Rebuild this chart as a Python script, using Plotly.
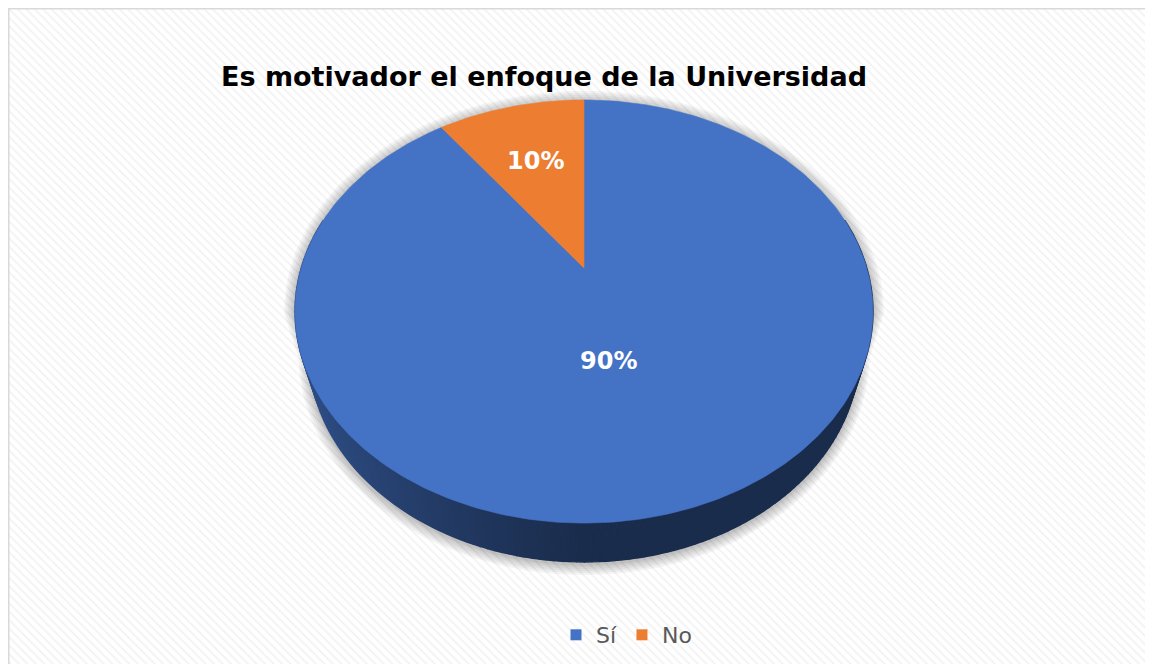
import numpy as np
import plotly.graph_objects as go

# ---------------- data ----------------
CATEGORIES = ["Sí", "No"]
VALUES = [90, 10]
PCT_LABELS = ["90%", "10%"]
COLORS = ["#4472C4", "#ED7D31"]
TITLE = "Es motivador el enfoque de la Universidad"

# ---------------- page / layout constants ----------------
OX, OY = 8, 8                          # page body margin of the browser
W, HGT = 1153 - 2 * OX, 672 - 2 * OY   # figure size so that it fits the window without scrollbars
FONT = "DejaVu Sans, Liberation Sans, Arial"

# ---------------- 3D pie geometry (screen pixels) ----------------
CX, CY = 584, 268          # projected pie centre
F, D = 959.6, 3.393        # perspective focal length & camera distance (radius = 1)
SA, CA = 0.7164, 0.698     # sin / cos of view elevation
THICK = 0.228              # pie thickness (radius units)
START = np.pi / 2          # first slice starts at 12 o'clock, clockwise
LABEL_R = [0.44, 0.62]
LABEL_XSHIFT = [-18, 0]


def proj(r, th, h=0.0):
    x = r * np.cos(th)
    y = r * np.sin(th)
    v = y * SA + h * CA
    z = y * CA - h * SA
    return CX + F * x / (D + z), CY - F * v / (D + z)


def hex_rgb(c):
    c = c.lstrip("#")
    return [int(c[i:i + 2], 16) for i in (0, 2, 4)]


total = float(sum(VALUES))
fracs = [v / total for v in VALUES]
cum = np.concatenate([[0], np.cumsum(fracs)])
angles = [(START - 2 * np.pi * cum[i], START - 2 * np.pi * cum[i + 1]) for i in range(len(VALUES))]

fig = go.Figure()

# ---------------- background hatch (subplot xy) ----------------
fig.add_trace(go.Bar(
    x=[0.5], y=[1], width=[1], xaxis="x", yaxis="y",
    marker=dict(color="white", line=dict(width=0),
                pattern=dict(shape="\\", fgcolor="#e6e6e6", bgcolor="white", size=6, solidity=0.3)),
    showlegend=False, hoverinfo="skip"))

# ---------------- shadow ----------------
t_top = np.linspace(-0.21, np.pi + 0.21, 120)
t_bot = np.linspace(np.pi + 0.21, 2 * np.pi - 0.21, 120)
sx, sy = [], []
for t in t_top:
    a, b = proj(1, t, 0)
    sx.append(a); sy.append(b)
for t in t_bot:
    a, b = proj(1, t, -THICK)
    sx.append(a); sy.append(b)
sx = np.array(sx); sy = np.array(sy)
scx, scy = 584, 330
for e in [11, 9, 7, 5, 3, 1.5]:
    kx = 1 + e / 290.0
    ky = 1 + e / 230.0
    fig.add_trace(go.Scatter(
        x=scx + (sx - scx) * kx, y=scy + (sy - scy) * ky + 2, xaxis="x2", yaxis="y2",
        mode="lines", fill="toself", fillcolor="rgba(0,0,0,0.045)", line=dict(width=0),
        showlegend=False, hoverinfo="skip"))

# ---------------- side wall ----------------
def slice_of(th):
    fr = ((START - th) % (2 * np.pi)) / (2 * np.pi)
    for i in range(len(VALUES)):
        if cum[i] <= fr < cum[i + 1]:
            return i
    return len(VALUES) - 1

edges = np.linspace(np.pi - 0.25, 2 * np.pi + 0.25, 161)
segs = []
for i in range(len(edges) - 1):
    t0, t1 = edges[i], edges[i + 1]
    tm = 0.5 * (t0 + t1)
    segs.append((np.sin(tm), t0, t1, tm))
segs.sort(key=lambda s: -s[0])
for _, t0, t1, tm in segs:
    base = np.array(hex_rgb(COLORS[slice_of(tm)]))
    sh = max(0.0, -np.cos(tm)) ** 1.1
    fac = 0.39 + 0.33 * sh
    col = "rgb(%d,%d,%d)" % tuple((base * fac).astype(int))
    tt = np.linspace(t0, t1, 3)
    xs, ys = [], []
    for t in tt:
        a, b = proj(1, t, 0); xs.append(a); ys.append(b)
    for t in tt[::-1]:
        a, b = proj(1, t, -THICK); xs.append(a); ys.append(b)
    fig.add_trace(go.Scatter(
        x=xs, y=ys, xaxis="x2", yaxis="y2", mode="lines", fill="toself",
        fillcolor=col, line=dict(width=1.4, color=col),
        showlegend=False, hoverinfo="skip"))

# ---------------- top face slices ----------------
for i, (a0, a1) in enumerate(angles):
    n = max(4, int(abs(a1 - a0) / (2 * np.pi) * 400))
    tt = np.linspace(a0, a1, n)
    xs, ys = [CX], [CY]
    for t in tt:
        a, b = proj(1, t, 0); xs.append(a); ys.append(b)
    xs.append(CX); ys.append(CY)
    fig.add_trace(go.Scatter(
        x=xs, y=ys, xaxis="x2", yaxis="y2", mode="lines", fill="toself",
        fillcolor=COLORS[i], line=dict(width=0.6, color=COLORS[i]),
        name=CATEGORIES[i], showlegend=False, hoverinfo="skip"))

# ---------------- data labels ----------------
for i, (a0, a1) in enumerate(angles):
    am = 0.5 * (a0 + a1)
    lx, ly = proj(LABEL_R[i], am, 0)
    fig.add_annotation(x=lx, y=ly, xref="x2", yref="y2", text="<b>%s</b>" % PCT_LABELS[i],
                       showarrow=False, xshift=LABEL_XSHIFT[i],
                       font=dict(family=FONT, size=24, color="white"))

# ---------------- legend entries ----------------
for i, cat in enumerate(CATEGORIES):
    fig.add_trace(go.Scatter(
        x=[None], y=[None], xaxis="x2", yaxis="y2", mode="markers", name=cat,
        marker=dict(symbol="square", size=11, color=COLORS[i])))

fig.update_layout(
    width=W, height=HGT,
    margin=dict(l=0, r=0, t=0, b=0),
    paper_bgcolor="white", plot_bgcolor="rgba(0,0,0,0)",
    title=dict(text="<b>%s</b>" % TITLE, x=(544 - OX) / W, xanchor="center",
               y=1 - (77 - OY) / HGT, yanchor="middle",
               font=dict(family=FONT, size=27, color="black")),
    xaxis=dict(domain=[0, 1], range=[0, 1], visible=False, fixedrange=True),
    yaxis=dict(domain=[0, 1], range=[0, 1], visible=False, fixedrange=True),
    xaxis2=dict(domain=[0, 1], range=[OX, OX + W], visible=False, anchor="y2", fixedrange=True),
    yaxis2=dict(domain=[0, 1], range=[OY + HGT, OY], visible=False, anchor="x2", fixedrange=True),
    legend=dict(orientation="h", x=(556 - OX) / W, xanchor="left",
                y=1 - (635 - OY) / HGT, yanchor="middle",
                font=dict(family=FONT, size=22, color="#595959"),
                itemwidth=30, bgcolor="rgba(0,0,0,0)", traceorder="normal"),
    bargap=0,
    shapes=[
        dict(type="line", xref="paper", yref="paper", x0=0.75 / W, x1=0.75 / W, y0=0, y1=1,
             line=dict(color="#d9d9d9", width=1.5), layer="above"),
        dict(type="line", xref="paper", yref="paper", x0=0, x1=1, y0=1 - 0.75 / HGT, y1=1 - 0.75 / HGT,
             line=dict(color="#d9d9d9", width=1.5), layer="above"),
    ],
)

fig.write_html("out.html")
